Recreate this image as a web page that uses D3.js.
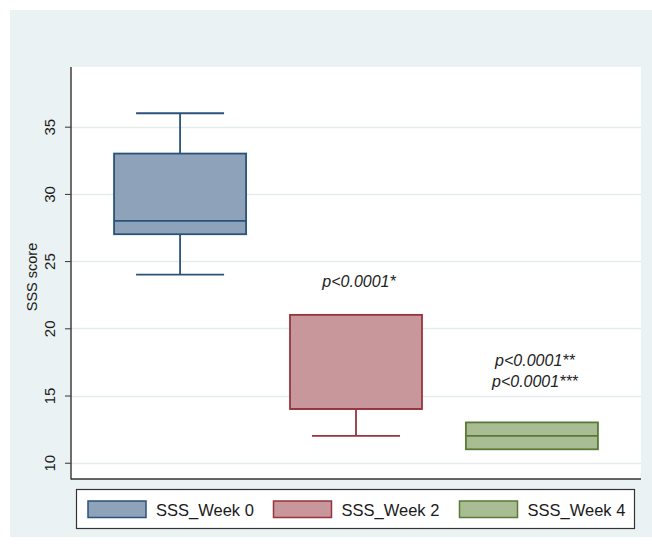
<!DOCTYPE html>
<html>
<head>
<meta charset="utf-8">
<script src="https://cdn.jsdelivr.net/npm/d3@7"></script>
<style>
  html, body { margin: 0; padding: 0; background: #ffffff; }
  svg { display: block; font-family: "Liberation Sans", Arial, sans-serif; }
</style>
</head>
<body>
<svg id="chart" width="652" height="544"></svg>
<script>
// ---- data ----
const categories = ["SSS_Week 0", "SSS_Week 2", "SSS_Week 4"];
const whiskerLow = [24, 12, 11];
const q1 = [27, 14, 11];
const median = [28, 14, 12];
const q3 = [33, 21, 13];
const whiskerHigh = [36, 21, 13];
const yTicks = [10, 15, 20, 25, 30, 35];
const annoCategory = ["SSS_Week 2", "SSS_Week 4", "SSS_Week 4"];
const annoValue = [23.1, 17.2, 15.65];
const annoText = ["p<0.0001*", "p<0.0001**", "p<0.0001***"];

const fills = ["#8ea3ba", "#c8979b", "#a9bd95"];
const strokes = ["#2a5278", "#96353f", "#5a7a35"];

const svg = d3.select("#chart");

// outer background
svg.append("rect").attr("x", 10).attr("y", 10).attr("width", 642).attr("height", 527)
  .attr("fill", "#eaf2f3");

const plot = { left: 71, right: 641, top: 67, bottom: 479 };
svg.append("rect").attr("x", plot.left).attr("y", plot.top)
  .attr("width", plot.right - plot.left).attr("height", plot.bottom - plot.top)
  .attr("fill", "#ffffff");

const y = d3.scaleLinear().domain([8.79, 39.44]).range([plot.bottom, plot.top]);
const x = d3.scalePoint().domain(categories).range([plot.left, plot.right]).padding(0.62);
const boxW = 132, capW = 88;

// gridlines
svg.append("g").selectAll("line").data(yTicks).join("line")
  .attr("x1", plot.left).attr("x2", plot.right)
  .attr("y1", d => Math.round(y(d)) + 0.5).attr("y2", d => Math.round(y(d)) + 0.5)
  .attr("stroke", "#e2eced").attr("stroke-width", 1.3);

// y axis
const yAxis = d3.axisLeft(y).tickValues(yTicks).tickSize(6).tickPadding(4);
const gy = svg.append("g").attr("transform", `translate(${plot.left},0)`).call(yAxis);
gy.select(".domain").remove();
gy.selectAll(".tick line").attr("stroke", "#333").attr("stroke-width", 1);
gy.selectAll(".tick text")
  .attr("font-size", 15).attr("fill", "#1a1a1a")
  .attr("x", null).attr("dy", null)
  .attr("text-anchor", "middle")
  .attr("transform", "translate(-16,0) rotate(-90)");

svg.append("line").attr("x1", plot.left).attr("x2", plot.left)
  .attr("y1", plot.top).attr("y2", plot.bottom + 0.5)
  .attr("stroke", "#333").attr("stroke-width", 1.4);
svg.append("line").attr("x1", plot.left).attr("x2", plot.right)
  .attr("y1", plot.bottom).attr("y2", plot.bottom)
  .attr("stroke", "#333").attr("stroke-width", 1.4);

svg.append("text")
  .attr("transform", `translate(37,${(plot.top + plot.bottom) / 2 + 4}) rotate(-90)`)
  .attr("text-anchor", "middle").attr("font-size", 14.5).attr("fill", "#1a1a1a")
  .text("SSS score");

// boxes
const data = categories.map((c, i) => ({
  c, i, lo: whiskerLow[i], q1: q1[i], med: median[i], q3: q3[i], hi: whiskerHigh[i]
}));
const g = svg.append("g").selectAll("g").data(data).join("g");
g.each(function(d) {
  const s = d3.select(this);
  const cx = x(d.c);
  const col = strokes[d.i];
  if (d.hi > d.q3) {
    s.append("line").attr("x1", cx).attr("x2", cx).attr("y1", y(d.hi)).attr("y2", y(d.q3))
      .attr("stroke", col).attr("stroke-width", 1.8);
    s.append("line").attr("x1", cx - capW / 2).attr("x2", cx + capW / 2)
      .attr("y1", y(d.hi)).attr("y2", y(d.hi)).attr("stroke", col).attr("stroke-width", 1.8);
  }
  if (d.lo < d.q1) {
    s.append("line").attr("x1", cx).attr("x2", cx).attr("y1", y(d.q1)).attr("y2", y(d.lo))
      .attr("stroke", col).attr("stroke-width", 1.8);
    s.append("line").attr("x1", cx - capW / 2).attr("x2", cx + capW / 2)
      .attr("y1", y(d.lo)).attr("y2", y(d.lo)).attr("stroke", col).attr("stroke-width", 1.8);
  }
  s.append("rect").attr("x", cx - boxW / 2).attr("width", boxW)
    .attr("y", y(d.q3)).attr("height", y(d.q1) - y(d.q3))
    .attr("fill", fills[d.i]).attr("stroke", col).attr("stroke-width", 1.8);
  s.append("line").attr("x1", cx - boxW / 2).attr("x2", cx + boxW / 2)
    .attr("y1", y(d.med)).attr("y2", y(d.med)).attr("stroke", col).attr("stroke-width", 1.8);
});

// annotations
svg.append("g").selectAll("text").data(annoText).join("text")
  .attr("x", (d, i) => x(annoCategory[i]) + 3)
  .attr("y", (d, i) => y(annoValue[i]))
  .attr("text-anchor", "middle").attr("font-size", 16).attr("font-style", "italic")
  .attr("fill", "#222")
  .text(d => d);

// legend
const lg = svg.append("g");
lg.append("rect").attr("x", 76.5).attr("y", 489.5).attr("width", 558).attr("height", 39)
  .attr("fill", "#ffffff").attr("stroke", "#333").attr("stroke-width", 1.2);
const legX = [88, 273.5, 459.5];
const items = lg.selectAll("g.item").data(categories).join("g").attr("class", "item");
items.append("rect")
  .attr("x", (d, i) => legX[i]).attr("y", 501).attr("width", 58).attr("height", 16.5)
  .attr("fill", (d, i) => fills[i]).attr("stroke", (d, i) => strokes[i]).attr("stroke-width", 1.5);
items.append("text")
  .attr("x", (d, i) => legX[i] + 68).attr("y", 515.5)
  .attr("font-size", 16.5).attr("fill", "#1a1a1a")
  .text(d => d);
</script>
</body>
</html>
